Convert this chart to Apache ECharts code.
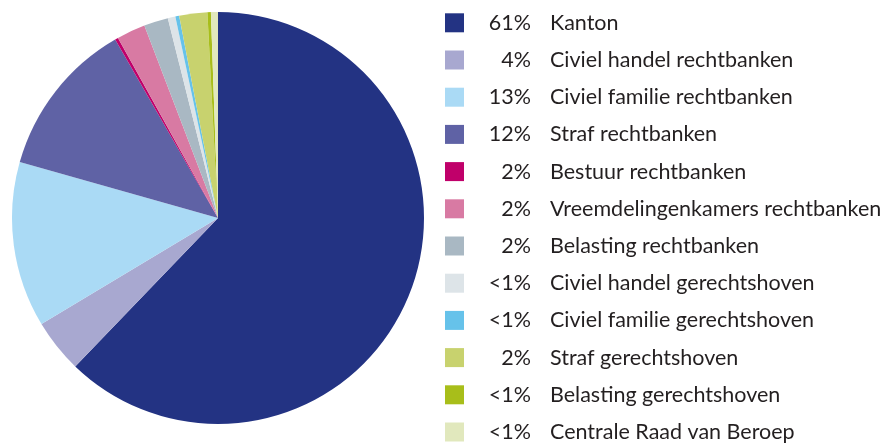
<!DOCTYPE html>
<html>
<head>
<meta charset="utf-8">
<script src="https://cdn.jsdelivr.net/npm/echarts@6/dist/echarts.min.js"></script>
<style>
html,body{margin:0;padding:0;background:#fff;}
#chart{width:888px;height:443px;}
</style>
</head>
<body>
<div id="chart"></div>
<script>
const categories = [
  "Kanton",
  "Civiel handel rechtbanken",
  "Civiel familie rechtbanken",
  "Straf rechtbanken",
  "Bestuur rechtbanken",
  "Vreemdelingenkamers rechtbanken",
  "Belasting rechtbanken",
  "Civiel handel gerechtshoven",
  "Civiel familie gerechtshoven",
  "Straf gerechtshoven",
  "Belasting gerechtshoven",
  "Centrale Raad van Beroep"
];
const values = [62.2, 4.2, 13.0, 12.3, 0.25, 2.25, 1.9, 0.6, 0.3, 2.2, 0.27, 0.55];
const pctLabels = ["61%", "4%", "13%", "12%", "2%", "2%", "2%", "<1%", "<1%", "2%", "<1%", "<1%"];
const colors = ["#233383", "#a8a8d0", "#aadaf5", "#5f62a5", "#c0006a", "#d87aa3",
                "#a9b8c3", "#dde4e8", "#66c2ea", "#c8d26e", "#a8be1a", "#e1e8bd"];

const FONT = 'Lato, "Noto Sans", sans-serif';
const FS = 21.5;
const PCT_BOX = 62;
const ctx = document.createElement('canvas').getContext('2d');
ctx.font = FS + 'px ' + FONT;

const chart = echarts.init(document.getElementById('chart'), null, {renderer: 'canvas'});
const rich = {n: {padding: [0, 0, 0, 19], fontFamily: FONT, fontSize: FS, color: '#231f20', lineHeight: 19}};
pctLabels.forEach((p, i) => {
  const w = ctx.measureText(p).width;
  rich['p' + i] = {padding: [0, 0, 0, Math.max(0, PCT_BOX - w)], fontFamily: FONT, fontSize: FS, color: '#231f20', lineHeight: 19};
});
chart.setOption({
  animation: false,
  color: colors,
  legend: {
    orient: 'vertical',
    left: 445,
    top: 11.8,
    height: 480,
    padding: 0,
    itemWidth: 19,
    itemHeight: 19,
    itemGap: 15.2,
    icon: 'rect',
    selectedMode: false,
    data: categories,
    formatter: function (name) {
      const i = categories.indexOf(name);
      return '{p' + i + '|' + pctLabels[i] + '}{n|' + name + '}';
    },
    textStyle: {
      fontFamily: FONT,
      fontSize: FS,
      lineHeight: 19,
      color: '#231f20',
      rich: rich
    }
  },
  series: [{
    type: 'pie',
    center: [218, 218],
    radius: [0, 206],
    startAngle: 90,
    clockwise: true,
    label: {show: false},
    labelLine: {show: false},
    emphasis: {disabled: true},
    itemStyle: {borderWidth: 0},
    data: categories.map((c, i) => ({name: c, value: values[i]}))
  }]
});
</script>
</body>
</html>
